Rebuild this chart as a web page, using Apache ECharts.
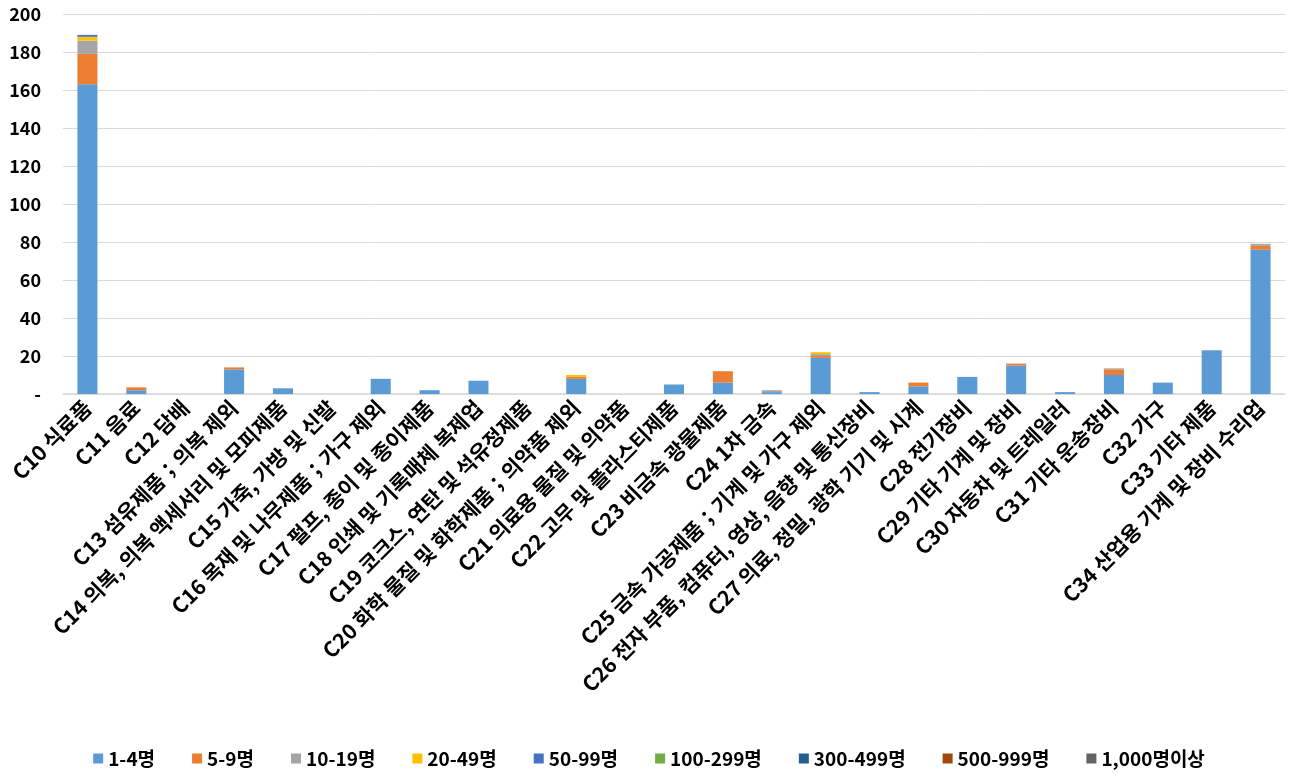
<!DOCTYPE html>
<html><head><meta charset="utf-8">
<script src="https://cdn.jsdelivr.net/npm/echarts@6/dist/echarts.min.js"></script>
<style>html,body{margin:0;padding:0;background:#fff}#c{width:1298px;height:783px}</style>
</head><body><div id="c"></div>
<script>
const categories = ["C10 식료품","C11 음료","C12 담배","C13 섬유제품；의복 제외","C14 의복, 의복 액세서리 및 모피제품","C15 가죽, 가방 및 신발","C16 목재 및 나무제품；가구 제외","C17 펄프, 종이 및 종이제품","C18 인쇄 및 기록매체 복제업","C19 코크스, 연탄 및 석유정제품","C20 화학 물질 및 화학제품；의약품 제외","C21 의료용 물질 및 의약품","C22 고무 및 플라스티제품","C23 비금속 광물제품","C24 1차 금속","C25 금속 가공제품；기계 및 가구 제외","C26 전자 부품, 컴퓨터, 영상, 음향 및 통신장비","C27 의료, 정밀, 광학 기기 및 시계","C28 전기장비","C29 기타 기계 및 장비","C30 자동차 및 트레일러","C31 기타 운송장비","C32 가구","C33 기타 제품","C34 산업용 기계 및 장비 수리업"];
const seriesNames = ["1-4명","5-9명","10-19명","20-49명","50-99명","100-299명","300-499명","500-999명","1,000명이상"];
const s1_4    = [163,2,0,13,3,0,8,2,7,0,8,0,5,6,1,19,1,4,9,15,1,10,6,23,76];
const s5_9    = [16,1.5,0,1,0,0,0,0,0,0,1,0,0,6,0,1,0,2,0,1,0,3,0,0,2];
const s10_19  = [7,0,0,0,0,0,0,0,0,0,0,0,0,0,1,1,0,0,0,0,0,0.5,0,0,1];
const s20_49  = [2,0,0,0,0,0,0,0,0,0,1,0,0,0,0,1,0,0,0,0,0,0,0,0,0];
const s50_99  = [1,0,0,0,0,0,0,0,0,0,0,0,0,0,0,0,0,0,0,0,0,0,0,0,0];
const s100_299= [0,0,0,0,0,0,0,0,0,0,0,0,0,0,0,0,0,0,0,0,0,0,0,0,0];
const s300_499= [0,0,0,0,0,0,0,0,0,0,0,0,0,0,0,0,0,0,0,0,0,0,0,0,0];
const s500_999= [0,0,0,0,0,0,0,0,0,0,0,0,0,0,0,0,0,0,0,0,0,0,0,0,0];
const s1000   = [0,0,0,0,0,0,0,0,0,0,0,0,0,0,0,0,0,0,0,0,0,0,0,0,0];
const allData = [s1_4,s5_9,s10_19,s20_49,s50_99,s100_299,s300_499,s500_999,s1000];
const colors = ["#5B9BD5","#ED7D31","#A5A5A5","#FFC000","#4472C4","#70AD47","#255E91","#9E480E","#636363"];
const font = "'Noto Sans CJK KR','Noto Sans',sans-serif";
const chart = echarts.init(document.getElementById('c'));
chart.setOption({
  animation:false,
  color: colors,
  textStyle:{fontFamily:font},
  grid:{left:63,right:13,top:14,bottom:389},
  legend:{bottom:10,left:'center',itemWidth:10,itemHeight:10,itemGap:37,icon:'rect',
    textStyle:{fontFamily:font,fontSize:19,fontWeight:'bold',color:'#000'}},
  xAxis:{type:'category',data:categories,
    axisLine:{lineStyle:{color:'#d9d9d9',width:1.5}},axisTick:{show:false},
    axisLabel:{interval:0,rotate:45,fontFamily:font,fontSize:21,fontWeight:'bold',color:'#000',margin:10}},
  yAxis:{type:'value',min:0,max:200,interval:20,
    splitLine:{lineStyle:{color:'#d9d9d9',width:1}},axisLine:{show:false},axisTick:{show:false},
    axisLabel:{fontFamily:font,fontSize:18,fontWeight:'bold',color:'#000',margin:22,
      formatter:v=>v===0?'-':v}},
  series: seriesNames.map((n,i)=>({name:n,type:'bar',stack:'a',barWidth:'41%',data:allData[i]}))
});
</script></body></html>
